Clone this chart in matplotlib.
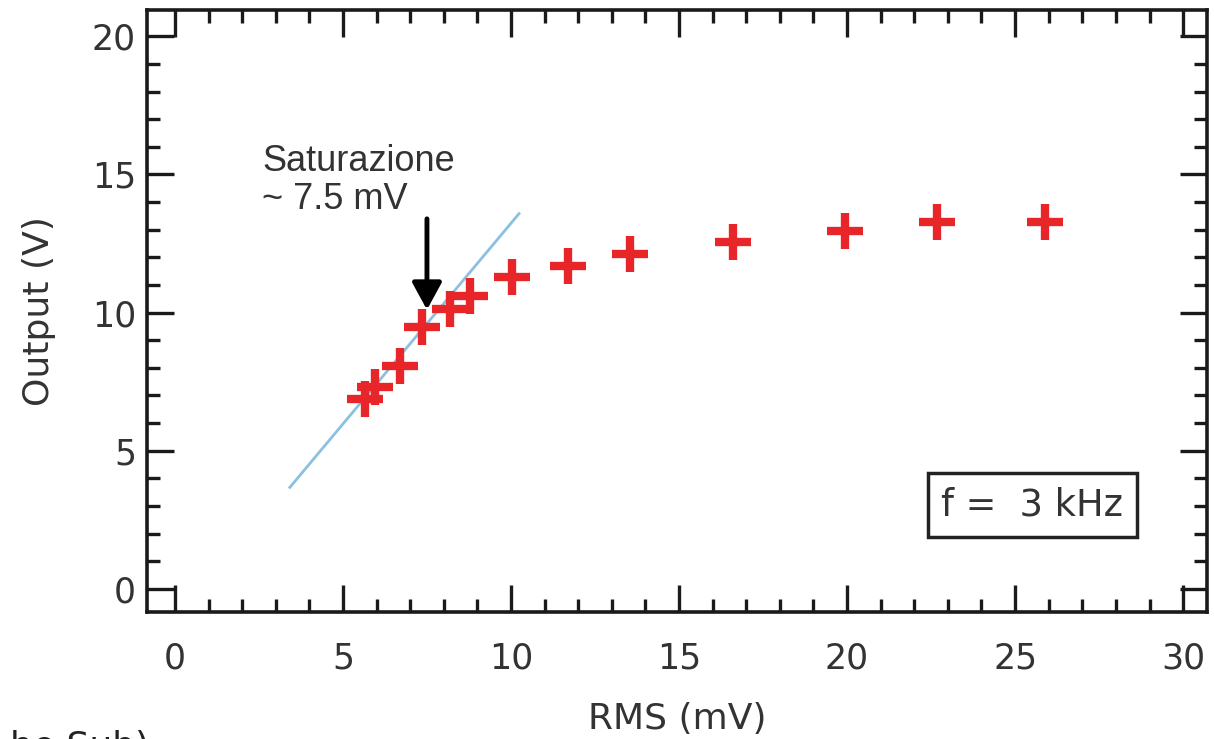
import matplotlib
matplotlib.use("Agg")
import matplotlib.pyplot as plt
from matplotlib.ticker import MultipleLocator

# Data
rms_mv = [5.65, 5.95, 6.70, 7.35, 8.18, 8.78, 10.03, 11.70, 13.54, 16.61, 19.94, 22.68, 25.89]
output_v = [6.86, 7.30, 8.06, 9.47, 10.13, 10.60, 11.29, 11.69, 12.12, 12.56, 12.96, 13.28, 13.28]
fit_x = [3.42, 10.24]
fit_y = [3.67, 13.58]
sat_x = 7.5
arrow_y = [13.39, 10.1]
x_ticks = [0, 5, 10, 15, 20, 25, 30]
y_ticks = [0, 5, 10, 15, 20]

plt.rcParams['font.family'] = ['DejaVu Sans']

fig = plt.figure(figsize=(12.14, 7.39), dpi=100)
ax = fig.add_axes([147/1214, 1 - 612/739, (1207-147)/1214, (612-10)/739])

ax.plot(fit_x, fit_y, color='#8cc0e0', lw=2.0, zorder=2)
ax.plot(rms_mv, output_v, linestyle='none', marker='+', markersize=26,
        markeredgewidth=6.0, color='#e8262a', zorder=3)

ax.annotate('', xy=(sat_x, arrow_y[1]), xytext=(sat_x, arrow_y[0]),
            arrowprops=dict(arrowstyle='-|>,head_length=0.55,head_width=0.3',
                            color='black', lw=3.5, mutation_scale=30,
                            shrinkA=0, shrinkB=0), zorder=4)
ax.text(2.6, 16.1, 'Saturazione\n~ 7.5 mV', family='Liberation Sans', fontsize=26,
        color='#333333', va='top', ha='left', linespacing=1.1)

ax.text(0.921, 0.178, 'f =  3 kHz', transform=ax.transAxes, fontsize=26.5,
        color='#333333', ha='right', va='center',
        bbox=dict(boxstyle='square,pad=0.36', fc='white', ec='#222222', lw=2.5))

ax.set_xlim(-0.83, 30.71)
ax.set_ylim(-0.84, 20.95)
ax.set_xticks(x_ticks)
ax.set_yticks(y_ticks)
ax.xaxis.set_minor_locator(MultipleLocator(1))
ax.yaxis.set_minor_locator(MultipleLocator(1))
ax.tick_params(which='both', direction='in', top=True, right=True, width=2.4, color='#1a1a1a')
ax.tick_params(which='major', length=19.5, labelsize=25, labelcolor='#333333')
ax.tick_params(which='minor', length=9.5)
ax.tick_params(axis='x', which='major', pad=21)
ax.tick_params(axis='y', which='major', pad=8)
for s in ax.spines.values():
    s.set_linewidth(2.6)
    s.set_color('#1a1a1a')

ax.set_xlabel('RMS (mV)', fontsize=26, color='#333333', labelpad=19)
ax.set_ylabel('Output (V)', fontsize=26, color='#333333', labelpad=26)

fig.text(0.008, 0.012, 'he Sub)', fontsize=26, color='#222222', va='top', ha='left')

fig.savefig('out.png', dpi=100, facecolor='white')
